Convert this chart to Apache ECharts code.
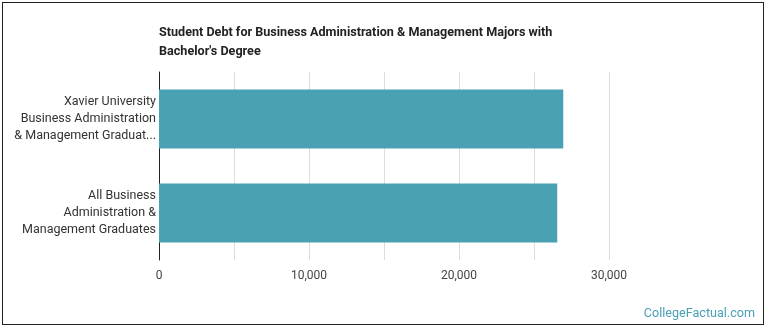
<!DOCTYPE html>
<html>
<head>
<meta charset="utf-8">
<style>
    html, body { margin: 0; padding: 0; background: #fff; }
    #frame { position: absolute; left: 2px; top: 2px; width: 762px; height: 323px; border: 1px solid #222; box-sizing: border-box; }
    #chart { position: absolute; left: 0; top: 0; width: 770px; height: 335px; }
</style>
<script src="https://cdn.jsdelivr.net/npm/echarts@6/dist/echarts.min.js"></script>
</head>
<body>
<div id="frame"></div>
<div id="chart"></div>
<script>
// 类目和数值
var categories = [
    'Xavier University\nBusiness Administration\n& Management Graduat...',
    'All Business\nAdministration &\nManagement Graduates'
];
var debtValues = [26950, 26550];
var tickLabels = ['0', '10,000', '20,000', '30,000'];

var chart = echarts.init(document.getElementById('chart'));

var option = {
    animation: false,
    title: {
        text: 'Student Debt for Business Administration & Management Majors with\nBachelor\'s Degree',
        left: 159,
        top: 23,
        padding: 0,
        textStyle: {
            fontFamily: 'Roboto',
            fontWeight: 'bold',
            fontSize: 12.6,
            lineHeight: 19,
            color: '#222'
        }
    },
    graphic: [{
        type: 'text',
        right: 15,
        top: 307,
        style: {
            text: 'CollegeFactual.com',
            fontFamily: 'Roboto',
            fontSize: 12.6,
            fill: '#4aa0b5'
        }
    }],
    grid: {
        left: 159,
        right: 161,
        top: 72,
        bottom: 75
    },
    xAxis: {
        type: 'value',
        min: 0,
        max: 30000,
        interval: 5000,
        axisLine: { show: false },
        axisTick: { show: false },
        splitLine: { lineStyle: { color: '#ddd', width: 1 } },
        axisLabel: {
            margin: 10,
            fontFamily: 'Roboto',
            fontSize: 12,
            color: '#444',
            formatter: function(v) {
                // 只显示 10000 的倍数
                if (v % 10000 !== 0) return '';
                return tickLabels[v / 10000];
            }
        }
    },
    yAxis: {
        type: 'category',
        inverse: true,
        data: categories,
        axisLine: { show: true, lineStyle: { color: '#222', width: 1 } },
        axisTick: { show: false },
        axisLabel: {
            margin: 3,
            fontFamily: 'Roboto',
            fontSize: 12.5,
            lineHeight: 17,
            color: '#333',
            align: 'right'
        }
    },
    series: [{
        type: 'bar',
        data: debtValues,
        barWidth: 59,
        itemStyle: { color: '#4ba1b4' }
    }]
};

chart.setOption(option);
</script>
</body>
</html>
